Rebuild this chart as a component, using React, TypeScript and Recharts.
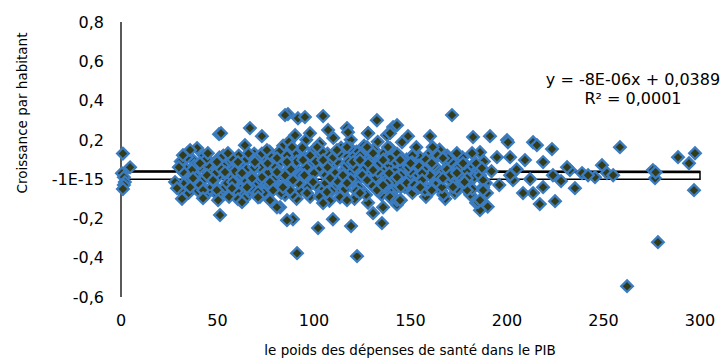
import React from 'react';
import { ScatterChart, Scatter, XAxis, YAxis, ReferenceArea, ReferenceLine } from 'recharts';

// points, grouped by region: [x, y]
const leftGroup = [
  [1, 0.13], [4.7, 0.06], [0.5, 0.03], [1.5, 0.01], [2, -0.015], [1.5, -0.03], [1, -0.05],
];

const upperPoints = [
  [86.5, 0.331], [91.7, 0.31], [95.3, 0.316], [104.7, 0.321], [132.6, 0.3], [107.3, 0.25], [97.9, 0.234],
  [90.2, 0.224], [117.1, 0.26], [117.6, 0.239], [128, 0.234], [137.8, 0.224], [141, 0.265], [88.6, 0.163],
  [101.6, 0.163], [111.9, 0.148], [118.7, 0.158], [127.5, 0.163], [139.4, 0.158], [85, 0.326], [50.8, 0.229],
  [66.8, 0.26], [73, 0.219], [64.2, 0.173], [39.4, 0.158], [75.6, 0.148], [35.8, 0.148], [171.5, 0.326],
  [143, 0.275], [148.7, 0.219], [160.1, 0.219], [161.5, 0.163], [145.6, 0.188], [153, 0.163], [138.3, 0.163],
  [139.4, 0.234], [117.1, 0.163], [182.4, 0.214], [191.2, 0.219], [200, 0.199], [186, 0.137], [181.9, 0.132],
  [174, 0.132], [128, 0.234], [51.8, 0.234],
];

const lowerPoints = [
  [82.4, -0.143], [89.1, -0.204], [102.1, -0.249], [109.8, -0.204], [119.2, -0.239], [91.2, -0.377],
  [122.3, -0.392], [130.6, -0.173], [135.2, -0.224], [135.8, -0.143], [104.7, -0.122], [117.1, -0.107],
  [143, -0.107], [145, -0.107], [51.3, -0.183], [50.3, -0.107], [60.6, -0.102], [42.5, -0.097],
  [62.7, -0.117], [77.2, -0.107], [80.8, -0.143], [86, -0.209], [144.6, -0.107], [186, -0.158],
  [185, -0.117], [186, -0.107], [217, -0.127], [224.9, -0.112], [278.2, -0.321], [262.2, -0.545],
  [30.6, -0.056], [29, -0.046], [31.6, -0.1],
];

const midPoints = [
  [86, 0.087], [94.3, 0.097], [104.7, 0.097], [120.2, 0.087], [134.2, 0.081], [139.4, 0.107], [89.1, -0.005],
  [99.5, -0.015], [108.3, 0.005], [117.1, -0.02], [127.5, -0.005], [137.8, -0.02], [87.6, -0.056],
  [96.4, -0.071], [106.7, -0.066], [113.5, -0.092], [123.8, -0.071], [132.6, -0.056], [141, -0.092],
  [55.4, 0.132], [45, 0.132], [34.2, 0.112], [80.8, 0.107], [69.4, 0.087], [60.6, 0.087], [49.7, 0.087],
  [40.9, 0.081], [36.8, 0.046], [32.1, 0.036], [44.6, 0.02], [53.9, 0.036], [62.7, 0.031], [73, 0.01],
  [80.8, 0.036], [37.3, 0.005], [47.7, -0.005], [58, -0.015], [67.9, 0.005], [77.2, -0.015], [35.8, -0.041],
  [42.5, -0.056], [49.7, -0.056], [57.5, -0.046], [65.3, -0.041], [71, -0.066], [78.8, -0.056],
  [83.9, -0.041], [71, -0.092], [32.1, 0.122], [30, 0.061], [28, -0.015], [150.8, 0.087], [169.4, 0.107],
  [177.2, 0.081], [143, 0.01], [156, -0.005], [170.5, 0.02], [179.3, 0.005], [186, 0.02], [157.5, -0.056],
  [166.3, -0.041], [179.3, -0.056], [187.6, -0.041], [153.9, -0.046], [139.4, -0.092], [189.6, -0.071],
  [130.6, 0.046], [135.8, -0.031], [130.6, 0.132], [123.8, 0.097], [144.6, 0.097], [135.8, 0.097],
  [150, 0.081], [161, 0.081], [161, -0.056], [155, -0.041], [166.8, 0.107], [166.8, 0.005], [174, 0.031],
  [178, -0.015], [187, 0.056], [187.6, -0.005], [187.6, -0.056],
];

const clusterFill = [
  [31, 0.09], [33, -0.02], [34, 0.05], [35, -0.07], [37, 0.1], [38, 0.02], [39, -0.04], [41, 0.06],
  [42, -0.01], [43, 0.12], [44, -0.08], [46, 0.04], [47, 0.08], [48, -0.03], [50, 0.01], [51, 0.11],
  [52, -0.06], [53, 0.07], [55, 0.03], [56, -0.09], [57, 0.09], [58, 0.05], [59, -0.02], [61, 0.12],
  [62, -0.05], [63, 0.06], [64, 0.0], [65, 0.1], [66, -0.07], [68, 0.04], [69, 0.13], [70, -0.03],
  [71, 0.08], [72, -0.09], [73, 0.05], [74, 0.11], [75, -0.02], [76, 0.03], [77, 0.14], [78, -0.06],
  [79, 0.07], [80, 0.01], [81, 0.12], [82, -0.04], [83, 0.09], [84, 0.17], [85, -0.08], [86, 0.04],
  [87, 0.19], [88, -0.02], [89, 0.1], [90, 0.06], [91, -0.1], [92, 0.14], [93, 0.02], [94, -0.05],
  [95, 0.11], [96, 0.2], [97, 0.03], [98, -0.09], [99, 0.08], [100, 0.15], [101, -0.03], [102, 0.05],
  [103, 0.18], [104, -0.07], [105, 0.1], [106, 0.02], [107, 0.13], [108, -0.11], [109, 0.07], [110, 0.21],
  [111, -0.04], [112, 0.09], [113, 0.01], [114, 0.16], [115, -0.08], [116, 0.05], [117, 0.12], [118, -0.02],
  [119, 0.2], [120, 0.04], [121, -0.1], [122, 0.14], [123, 0.0], [124, 0.08], [125, -0.06], [126, 0.17],
  [127, 0.03], [128, -0.12], [129, 0.11], [131, 0.06], [132, -0.03], [133, 0.19], [134, 0.09], [135, -0.08],
  [136, 0.13], [137, 0.02], [138, -0.05], [139, 0.07], [140, 0.15], [141, -0.01], [142, 0.04], [143, -0.13],
  [144, 0.12], [146, 0.06], [147, -0.04], [148, 0.1], [149, 0.01], [151, -0.07], [152, 0.13], [153, 0.03],
  [154, -0.02], [156, 0.09], [157, 0.05], [158, -0.09], [159, 0.12], [160, 0.02], [162, -0.03], [163, 0.06],
  [165, 0.15], [166, -0.06], [167, 0.04], [168, -0.1], [170, 0.08], [171, -0.01], [172, 0.03], [173, -0.07],
  [175, 0.06], [176, 0.1], [177, -0.03], [179, 0.04], [181, -0.08], [182, 0.07], [183, 0.01], [184, -0.12],
  [185, 0.05], [188, 0.09], [189, -0.02], [190, -0.14],
  [36, 0.0], [40, -0.06], [45, 0.07], [49, 0.03], [54, -0.04], [57, 0.0], [60, 0.08], [63, -0.08],
  [67, 0.02], [70, 0.1], [72, 0.06], [75, -0.05], [78, 0.11], [81, 0.04], [84, -0.03], [87, 0.08],
  [90, 0.13], [93, -0.06], [96, 0.06], [99, -0.01], [102, 0.12], [105, -0.05], [108, 0.09], [111, 0.03],
  [114, -0.06], [117, 0.07], [120, 0.11], [123, -0.04], [126, 0.05], [129, 0.14], [132, 0.01], [135, 0.05],
  [138, 0.11], [141, -0.06], [145, 0.02], [150, 0.04], [155, 0.11], [161, 0.1], [164, -0.02], [169, 0.12],
  [174, -0.05], [178, 0.08], [186, 0.04],
];

// extra marks where the reference cluster is solid blue
const denseCore = [
  [38, 0.07], [41, -0.03], [44, 0.1], [47, 0.0], [50, -0.08], [53, 0.12], [55, -0.02], [58, 0.1],
  [60, -0.06], [62, 0.02], [65, 0.05], [66, 0.13], [68, -0.05], [69, 0.06], [72, 0.0], [74, -0.07],
  [76, 0.08], [77, -0.03], [80, 0.06], [82, 0.14], [83, -0.07], [85, 0.02], [86, 0.12], [88, 0.05],
  [89, -0.08], [91, 0.09], [92, -0.02], [94, 0.16], [95, 0.02], [97, -0.04], [98, 0.12], [100, 0.03],
  [101, 0.09], [103, -0.09], [104, 0.14], [106, -0.02], [107, 0.06], [109, -0.06], [110, 0.11], [112, -0.01],
  [113, 0.13], [115, 0.02], [116, -0.05], [118, 0.09], [119, 0.0], [121, 0.06], [122, -0.06], [124, 0.12],
  [125, 0.02], [127, -0.08], [128, 0.08], [130, -0.03], [131, 0.15], [133, 0.04], [134, -0.06], [136, 0.1],
  [137, -0.01], [139, 0.03], [140, -0.07], [142, 0.09], [143, 0.13], [145, -0.04], [146, 0.1], [148, -0.02],
  [149, 0.06], [151, 0.12], [152, -0.03], [154, 0.07], [156, 0.03], [158, 0.1], [159, -0.05], [162, 0.07],
  [164, 0.12], [165, 0.01], [167, -0.08], [169, 0.05], [171, 0.09], [172, -0.04], [175, 0.02], [177, 0.11],
  [180, -0.02], [182, -0.05], [184, 0.08], [46, -0.05], [52, 0.05], [59, 0.04], [64, -0.1], [73, 0.13],
];

const rightTail = [
  [200.5, 0.188], [213.5, 0.188], [215.5, 0.173], [223.3, 0.153], [258.5, 0.163], [288.6, 0.112],
  [297.4, 0.132], [294.3, 0.081], [296.9, -0.056], [275.6, 0.046], [276.7, 0.005], [277, 0.035],
  [249.2, 0.071], [251.8, 0.031], [238.9, 0.031], [245.6, 0.01], [232.6, 0.046], [231.1, 0.061],
  [223.8, 0.02], [218.7, -0.041], [218.7, 0.087], [209.3, 0.097], [203.1, -0.005], [201.6, 0.02],
  [194.8, 0.112], [201.6, 0.112], [235.2, -0.046], [213.5, -0.071], [208.3, -0.071], [192, 0.04],
  [196, -0.03], [205, 0.05], [212, 0.0], [228, -0.01], [242, 0.02], [255, 0.02],
];

const xTicks = [0, 50, 100, 150, 200, 250, 300];
const yTicks = [-0.6, -0.4, -0.2, 0, 0.2, 0.4, 0.6, 0.8];

// trend line as printed on the chart
const trendSlope = -8e-6;
const trendIntercept = 0.0389;

const points = [...leftGroup, ...clusterFill, ...denseCore, ...midPoints, ...upperPoints, ...lowerPoints, ...rightTail]
  .map(([x, y]) => ({ x, y }));

const font = '"DejaVu Sans", Verdana, sans-serif';

const Diamond = (props: any) => {
  const { cx, cy } = props;
  if (cx == null || cy == null) return null;
  const r = 5.8;
  return (
    <path
      d={`M${cx},${cy - r}L${cx + r},${cy}L${cx},${cy + r}L${cx - r},${cy}Z`}
      fill="#323c1b"
      stroke="#3b7cc0"
      strokeWidth={2.3}
    />
  );
};

const fmtY = (v: number) => (v === 0 ? '-1E-15' : v.toFixed(1).replace('.', ','));

export default function App() {
  return (
    <div style={{ position: 'absolute', left: 0, top: 0, width: 728, height: 363, background: '#fff' }}>
      <ScatterChart width={728} height={363} margin={{ top: 22, right: 28, bottom: 0, left: 0 }}>
        <XAxis
          type="number"
          dataKey="x"
          domain={[0, 300]}
          ticks={xTicks}
          axisLine={false}
          tickLine={false}
          tickSize={0}
          tickMargin={18}
          height={66}
          tick={{ fill: '#000', fontSize: 16, fontFamily: font }}
        />
        <YAxis
          type="number"
          dataKey="y"
          domain={[-0.6, 0.8]}
          ticks={yTicks}
          tickFormatter={fmtY}
          axisLine={{ stroke: '#000', strokeWidth: 1.3 }}
          tickLine={false}
          tickSize={0}
          tickMargin={17}
          width={121}
          tick={{ fill: '#000', fontSize: 16, fontFamily: font }}
        />
        <ReferenceArea x1={0} x2={300} y1={0} y2={trendIntercept} fill="#fff" fillOpacity={1} stroke="#000" strokeWidth={1.5} />
        <Scatter data={points} shape={<Diamond />} isAnimationActive={false} />
        <ReferenceLine
          segment={[
            { x: 0, y: trendIntercept },
            { x: 300, y: trendIntercept + trendSlope * 300 },
          ]}
          stroke="#000"
          strokeWidth={2.5}
        />
        <text x={633} y={85} textAnchor="middle" fontSize={16} fontFamily={font} fill="#000">
          y = -8E-06x + 0,0389
        </text>
        <text x={633} y={104} textAnchor="middle" fontSize={16} fontFamily={font} fill="#000">
          R² = 0,0001
        </text>
        <text
          x={22}
          y={113}
          transform="rotate(-90 22 113)"
          textAnchor="middle"
          dominantBaseline="central"
          fontSize={13.5}
          fontFamily={font}
          fill="#000"
        >
          Croissance par habitant
        </text>
        <text x={410} y={355} textAnchor="middle" fontSize={13.5} fontFamily={font} fill="#000">
          le poids des dépenses de santé dans le PIB
        </text>
      </ScatterChart>
    </div>
  );
}
